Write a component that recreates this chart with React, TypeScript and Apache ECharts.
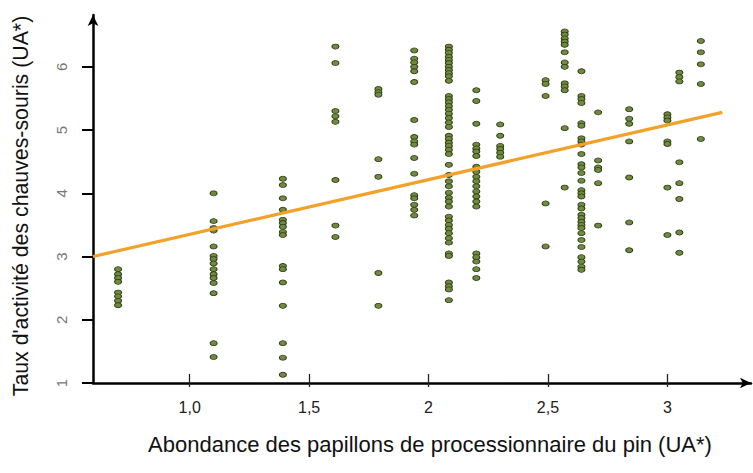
import React, { useEffect, useRef } from "react";
import * as echarts from "echarts";

// Column x positions (abundance of pine processionary moths)
const columnX = [0.70, 1.10, 1.39, 1.61, 1.79, 1.94, 2.085, 2.20, 2.30, 2.49, 2.57, 2.64, 2.71, 2.84, 3.00, 3.05, 3.14];

// Bat activity values per column
const colA = [2.80, 2.72, 2.66, 2.60, 2.43, 2.37, 2.30, 2.23];
const colB = [4.00, 3.56, 3.45, 3.41, 3.16, 3.01, 2.96, 2.89, 2.80, 2.72, 2.66, 2.58, 2.42, 1.63, 1.41];
const colC = [4.23, 4.13, 3.92, 3.74, 3.58, 3.53, 3.47, 3.39, 3.34, 2.85, 2.80, 2.59, 2.22, 1.63, 1.40, 1.13];
const colD = [6.32, 6.06, 5.30, 5.22, 5.13, 4.21, 3.49, 3.31];
const colE = [5.65, 5.60, 5.56, 4.54, 4.26, 2.74, 2.22];
const colF = [6.26, 6.13, 6.07, 6.00, 5.93, 5.76, 5.16, 4.89, 4.82, 4.77, 4.56, 4.31, 3.97, 3.92, 3.82, 3.74, 3.65];
const colG = [6.32, 6.27, 6.22, 6.16, 6.11, 6.06, 6.00, 5.95, 5.90, 5.85, 5.78,
  5.54, 5.49, 5.44, 5.38, 5.32, 5.26, 5.19, 5.12, 5.05,
  4.91, 4.86, 4.80, 4.75, 4.69, 4.62,
  4.45, 4.29, 4.19, 4.11, 4.01, 3.93, 3.87, 3.79,
  3.63, 3.57, 3.50, 3.44, 3.37, 3.29, 3.22,
  3.05, 3.01, 2.59, 2.53, 2.48, 2.31];
const colH = [5.63, 5.46, 5.10, 4.77, 4.71, 4.66, 4.59, 4.42, 4.34, 4.26, 4.19, 4.11, 4.03, 3.95, 3.87, 3.79, 3.05, 2.99, 2.92, 2.80, 2.66];
const colI = [5.09, 4.91, 4.75, 4.70, 4.64, 4.58];
const colJ = [5.79, 5.73, 5.54, 3.84, 3.16];
const colK = [6.56, 6.51, 6.45, 6.40, 6.35, 6.23, 6.07, 6.00, 5.74, 5.69, 5.63, 5.03, 4.09];
const colL = [5.93, 5.54, 5.49, 5.43, 5.11, 5.07, 4.87, 4.82, 4.77, 4.62, 4.46, 4.41, 4.32, 4.20, 4.05, 4.00, 3.95,
  3.82, 3.76, 3.66, 3.61, 3.55, 3.50, 3.45, 3.37, 3.26, 3.15, 2.99, 2.92, 2.84, 2.79];
const colM = [5.28, 4.52, 4.41, 4.37, 4.16, 3.49];
const colN = [5.33, 5.18, 5.10, 4.82, 4.25, 3.54, 3.10];
const colO = [5.25, 5.20, 5.15, 4.82, 4.78, 4.09, 3.34];
const colP = [5.91, 5.84, 5.77, 4.49, 4.16, 3.91, 3.38, 3.06];
const colQ = [6.41, 6.23, 6.04, 5.73, 4.86];

const columnsY = [colA, colB, colC, colD, colE, colF, colG, colH, colI, colJ, colK, colL, colM, colN, colO, colP, colQ];

// Regression line endpoints
const fitX = [0.595, 3.23];
const fitY = [3.0, 5.28];

// Ticks
const xTickValues = [1, 1.5, 2, 2.5, 3];
const xTickLabels = ["1,0", "1,5", "2", "2,5", "3"];
const yTickValues = [1, 2, 3, 4, 5, 6];
const yTickLabels = ["1", "2", "3", "4", "5", "6"];

const xName = "Abondance des papillons de processionnaire du pin (UA*)";
const yName = "Taux d'activité des chauves-souris (UA*)";

export default function App() {
  const ref = useRef<HTMLDivElement>(null);
  useEffect(() => {
    if (!ref.current) return;
    const chart = echarts.init(ref.current, null, { renderer: "svg" });
    const points: number[][] = [];
    columnsY.forEach((col, i) => col.forEach((v) => points.push([columnX[i], v])));
    const font = "Liberation Sans, Arial, Helvetica, sans-serif";
    const xMin = 0.595, xMax = 3.35;
    chart.setOption({
      animation: false,
      backgroundColor: "#ffffff",
      textStyle: { fontFamily: font },
      grid: { left: 93, right: 2, top: 15, bottom: 90, containLabel: false },
      xAxis: [
        {
          type: "value",
          min: xMin,
          max: xMax,
          position: "bottom",
          name: xName,
          nameLocation: "middle",
          nameGap: 50,
          nameTextStyle: { fontSize: 22, color: "#111", fontFamily: font, padding: [0, 0, 0, 16] },
          axisLine: {
            show: true,
            onZero: false,
            lineStyle: { color: "#000", width: 2.5 },
            symbol: ["none", "arrow"],
            symbolSize: [8, 11],
          },
          axisTick: {
            show: true,
            inside: true,
            length: 9,
            customValues: xTickValues,
            lineStyle: { color: "#222", width: 1.3 },
          },
          axisLabel: {
            show: true,
            customValues: xTickValues,
            margin: 16,
            fontSize: 16,
            color: "#222",
            fontFamily: font,
            formatter: (v: number) => {
              const idx = xTickValues.findIndex((t) => Math.abs(t - v) < 1e-6);
              return idx >= 0 ? xTickLabels[idx] : "";
            },
          },
          splitLine: { show: false },
        },
        {
          type: "value",
          min: xMin,
          max: xMax,
          position: "bottom",
          offset: 0,
          axisLine: { show: false },
          axisTick: {
            show: true,
            inside: false,
            length: 4,
            customValues: xTickValues,
            lineStyle: { color: "#222", width: 1.3 },
          },
          axisLabel: { show: false },
          splitLine: { show: false },
        },
      ],
      yAxis: {
        type: "value",
        min: 1,
        max: 6.82,
        name: yName,
        nameLocation: "middle",
        nameGap: 62,
        nameRotate: 90,
        nameTextStyle: { fontSize: 21.3, color: "#111", fontFamily: font, padding: [0, 14, 0, 0] },
        axisLine: {
          show: true,
          onZero: false,
          lineStyle: { color: "#000", width: 2.5 },
          symbol: ["none", "arrow"],
          symbolSize: [8, 11],
        },
        axisTick: {
          show: true,
          length: 11,
          customValues: yTickValues,
          lineStyle: { color: "#000", width: 2 },
        },
        axisLabel: {
          show: true,
          customValues: yTickValues,
          rotate: 90,
          margin: 24,
          fontSize: 15,
          color: "#777",
          fontFamily: font,
          formatter: (v: number) => {
            const idx = yTickValues.findIndex((t) => Math.abs(t - v) < 1e-6);
            return idx >= 0 ? yTickLabels[idx] : "";
          },
        },
        splitLine: { show: false },
      },
      series: [
        {
          type: "scatter",
          xAxisIndex: 0,
          data: points,
          symbol: "circle",
          symbolSize: [7, 5],
          itemStyle: { color: "#6e8c3c", borderColor: "#2f3b1a", borderWidth: 0.9, opacity: 1 },
        },
        {
          type: "line",
          xAxisIndex: 0,
          data: fitX.map((x, i) => [x, fitY[i]]),
          symbol: "none",
          lineStyle: { color: "#f2a12a", width: 3.2 },
          silent: true,
        },
      ],
    });
    return () => chart.dispose();
  }, []);
  return <div ref={ref} style={{ position: "fixed", left: 0, top: 0, width: 753, height: 473 }} />;
}
